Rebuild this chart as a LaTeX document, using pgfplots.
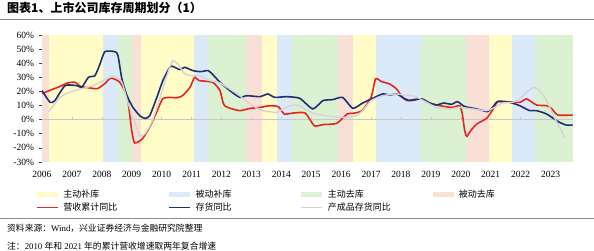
\documentclass[border=0pt]{standalone}
\usepackage{fontspec}
\setmainfont{Liberation Serif}
\newfontfamily\cjk{Noto Sans CJK SC}
\usepackage{pgfplots}
\usepackage{pgfplotstable}
\pgfplotsset{compat=1.18}
\definecolor{cRed}{RGB}{228,38,32}
\definecolor{cNavy}{RGB}{28,48,118}
\definecolor{cGray}{RGB}{212,212,212}
\definecolor{bYellow}{RGB}{255,252,200}
\definecolor{bBlue}{RGB}{220,233,248}
\definecolor{bGreen}{RGB}{220,240,210}
\definecolor{bPink}{RGB}{250,223,214}
\pgfplotstableread{
yr v
2006.0 18.5
2006.35 21.5
2006.6 23.5
2006.85 26
2007.1 26.5
2007.3 23.5
2007.6 22.5
2007.85 22
2008.1 25.5
2008.3 29.5
2008.6 26.5
2008.85 16
2009.0 -8
2009.1 -16.5
2009.35 -13.7
2009.6 -5.4
2009.83 5.2
2010.03 14.7
2010.25 15.8
2010.5 15.5
2010.7 17
2010.95 23
2011.1 30
2011.25 27.7
2011.7 26.5
2011.95 20.6
2012.1 9.9
2012.6 6.4
2012.95 8.0
2013.3 8.7
2013.6 9.9
2013.9 9.2
2014.1 4.0
2014.4 4.7
2014.8 4.7
2015.1 -4.3
2015.4 -3.5
2015.85 -2.6
2016.2 4.0
2016.4 4.5
2016.7 6.4
2017.0 15.8
2017.15 28.9
2017.35 27
2017.62 25.3
2017.85 21.8
2018.05 15.8
2018.2 13.5
2018.4 14.2
2018.7 14.7
2018.95 11.8
2019.3 9.9
2019.7 8.7
2019.96 9.9
2020.05 4.0
2020.13 -7.8
2020.2 -11.8
2020.33 -7.8
2020.53 -3.1
2020.86 0.9
2021.05 6.4
2021.23 12.8
2021.5 12.8
2021.97 12.3
2022.2 14.7
2022.53 10.4
2022.87 9.9
2023.03 8.0
2023.24 3.3
2023.74 3.3
}\revenue
\pgfplotstableread{
yr v
2006.0 20.6
2006.27 12.3
2006.43 13.5
2006.77 24.1
2007.17 24.1
2007.33 22.9
2007.55 30
2007.77 31.2
2007.94 39.5
2008.1 48.2
2008.44 48.2
2008.54 45.4
2008.67 28.9
2008.84 17
2009.04 8.7
2009.27 2.8
2009.44 0.9
2009.6 2.8
2009.84 15.8
2010.04 27.7
2010.27 37.1
2010.37 37.8
2010.6 35.5
2010.77 37.1
2011.04 34.8
2011.3 34
2011.55 34.8
2011.72 31.7
2011.95 26.5
2012.28 20.6
2012.61 15.8
2012.85 17
2013.28 16.3
2013.55 18.2
2013.78 15.8
2014.18 16.3
2014.62 15.1
2015.05 7.6
2015.39 13.5
2015.72 14.2
2016.05 15.8
2016.39 8.0
2016.72 11.8
2017.12 15.8
2017.39 18.2
2017.62 17.5
2017.86 18.2
2018.05 15.8
2018.29 13.5
2018.69 14.7
2018.96 11.8
2019.19 10.4
2019.43 11.8
2019.69 10.9
2019.89 12.8
2020.12 9.4
2020.53 7.6
2020.9 5.7
2021.06 8.7
2021.23 12.8
2021.63 12.3
2021.97 9.9
2022.3 6.4
2022.53 6.4
2022.87 4.0
2023.3 -1.9
2023.53 -3.8
2023.74 -3.8
}\inventory
\pgfplotstableread{
yr v
2006.23 5.7
2006.6 15.8
2007.0 20
2007.7 24.1
2008.27 30
2008.44 30.7
2008.67 26.5
2008.87 12.3
2009.1 -1.9
2009.27 -11.3
2009.44 -10.1
2009.67 -1.9
2009.88 11.1
2010.1 26.5
2010.27 37.1
2010.37 41.8
2010.54 39.5
2010.77 32.4
2011.04 31.2
2011.27 31.2
2011.6 27.7
2011.95 26
2012.61 17
2012.95 11.1
2013.38 6.4
2013.85 5.2
2014.05 7.6
2014.38 10.4
2014.6 9.9
2015.05 4.7
2015.62 2.4
2016.18 1.6
2016.5 2.8
2016.72 6.4
2017.0 13.5
2017.39 17
2017.86 18.2
2018.19 17
2018.4 17
2018.69 14.2
2019.19 8.7
2019.63 7.6
2019.96 8.7
2020.4 7.6
2020.86 6.4
2021.13 8.7
2021.4 11.8
2021.73 12.3
2021.97 14.7
2022.2 19.4
2022.43 22.9
2022.63 20.6
2022.87 13.5
2023.07 4.0
2023.3 -5.4
2023.47 -12.5
}\finished
\begin{document}
\begin{tikzpicture}
\useasboundingbox (0,0) rectangle (594bp,251bp);
\node[anchor=west,inner sep=0pt] at (7bp,243bp) {\cjk\bfseries\fontsize{12bp}{14bp}\selectfont 图表1、上市公司库存周期划分（1）};
\draw[black!45,line width=0.9bp] (0,232bp) -- (594bp,232bp);
\draw[black!45,line width=0.9bp] (0,33bp) -- (594bp,33bp);
\node[anchor=west,inner sep=0pt] at (7bp,23bp) {\fontsize{8.8bp}{10bp}\selectfont{\cjk 资料来源：}Wind{\cjk ，兴业证券经济与金融研究院整理}};
\node[anchor=west,inner sep=0pt] at (7bp,5bp) {\fontsize{8.8bp}{10bp}\selectfont{\cjk 注：}2010 {\cjk 年和} 2021 {\cjk 年的累计营收增速取两年复合增速}};
\begin{axis}[
  at={(42bp,89bp)}, anchor=south west,
  width=531bp, height=127bp, scale only axis,
  xmin=0, xmax=17.75, ymin=-30, ymax=60,
  axis lines*=left,
  x axis line style={draw=none},
  y axis line style={black!75, line width=0.7bp},
  xtick={0,1,...,17},
  xticklabels={2006,2007,2008,2009,2010,2011,2012,2013,2014,2015,2016,2017,2018,2019,2020,2021,2022,2023},
  xtick style={draw=none},
  ytick={-30,-20,...,60},
  yticklabels={-30\%,-20\%,-10\%,0\%,10\%,20\%,30\%,40\%,50\%,60\%},
  ytick style={black!75, line width=0.7bp},
  tick align=outside, major tick length=2.5bp,
  tick label style={font=\fontsize{9.5bp}{11bp}\selectfont},
  xticklabel style={yshift=-3.5bp},
  yticklabel style={xshift=-2bp},
  legend columns=4,
  legend cell align=left,
  legend style={at={(rel axis cs:-0.0113,-0.222)}, anchor=north west,
    draw=none, fill=none, inner sep=0pt, outer sep=0pt,
    font=\cjk\fontsize{9bp}{10bp}\selectfont,
    nodes={inner sep=0pt, text width=105bp, text height=7bp, text depth=2bp},
    row sep=4bp,
    /tikz/every odd column/.append style={column sep=5bp},
    /tikz/every even column/.append style={column sep=0bp}},
]
% bands (x = years since 2006)
\addplot[fill=bYellow, draw=none, area legend, legend image code/.code={\fill[bYellow] (0bp,-2.5bp) rectangle (21bp,2.5bp);}] coordinates {(0.23,-30) (0.23,60) (2.04,60) (2.04,-30)};
\addlegendentry{主动补库}
\addplot[fill=bBlue, draw=none, area legend, legend image code/.code={\fill[bBlue] (0bp,-2.5bp) rectangle (21bp,2.5bp);}] coordinates {(2.04,-30) (2.04,60) (2.54,60) (2.54,-30)};
\addlegendentry{被动补库}
\addplot[fill=bGreen, draw=none, area legend, legend image code/.code={\fill[bGreen] (0bp,-2.5bp) rectangle (21bp,2.5bp);}] coordinates {(2.54,-30) (2.54,60) (3.04,60) (3.04,-30)};
\addlegendentry{主动去库}
\addplot[fill=bPink, draw=none, area legend, legend image code/.code={\fill[bPink] (0bp,-2.5bp) rectangle (21bp,2.5bp);}] coordinates {(0,-30) (0,60) (0.23,60) (0.23,-30)};
\addlegendentry{被动去库}
\addplot[fill=bPink, draw=none, forget plot] coordinates {(3.04,-30) (3.04,60) (3.31,60) (3.31,-30)};
\addplot[fill=bPink, draw=none, forget plot] coordinates {(6.85,-30) (6.85,60) (7.35,60) (7.35,-30)};
\addplot[fill=bPink, draw=none, forget plot] coordinates {(9.89,-30) (9.89,60) (10.39,60) (10.39,-30)};
\addplot[fill=bPink, draw=none, forget plot] coordinates {(14.19,-30) (14.19,60) (14.93,60) (14.93,-30)};
\addplot[fill=bYellow, draw=none, forget plot] coordinates {(3.31,-30) (3.31,60) (5.08,60) (5.08,-30)};
\addplot[fill=bYellow, draw=none, forget plot] coordinates {(7.35,-30) (7.35,60) (7.85,60) (7.85,-30)};
\addplot[fill=bYellow, draw=none, forget plot] coordinates {(10.39,-30) (10.39,60) (11.16,60) (11.16,-30)};
\addplot[fill=bYellow, draw=none, forget plot] coordinates {(14.93,-30) (14.93,60) (15.70,60) (15.70,-30)};
\addplot[fill=bBlue, draw=none, forget plot] coordinates {(5.08,-30) (5.08,60) (5.55,60) (5.55,-30)};
\addplot[fill=bBlue, draw=none, forget plot] coordinates {(7.85,-30) (7.85,60) (8.35,60) (8.35,-30)};
\addplot[fill=bBlue, draw=none, forget plot] coordinates {(11.16,-30) (11.16,60) (12.66,60) (12.66,-30)};
\addplot[fill=bBlue, draw=none, forget plot] coordinates {(15.70,-30) (15.70,60) (16.47,60) (16.47,-30)};
\addplot[fill=bGreen, draw=none, forget plot] coordinates {(5.55,-30) (5.55,60) (6.85,60) (6.85,-30)};
\addplot[fill=bGreen, draw=none, forget plot] coordinates {(8.35,-30) (8.35,60) (9.89,60) (9.89,-30)};
\addplot[fill=bGreen, draw=none, forget plot] coordinates {(12.66,-30) (12.66,60) (14.19,60) (14.19,-30)};
\addplot[fill=bGreen, draw=none, forget plot] coordinates {(16.47,-30) (16.47,60) (17.75,60) (17.75,-30)};
% zero line with small year ticks
\addplot[black!22, line width=0.8bp, forget plot] coordinates {(0,0) (17.75,0)};
\addplot[black!22, line width=0.6bp, forget plot, ycomb] coordinates {(1,1.8) (2,1.8) (3,1.8) (4,1.8) (5,1.8) (6,1.8) (7,1.8) (8,1.8) (9,1.8) (10,1.8) (11,1.8) (12,1.8) (13,1.8) (14,1.8) (15,1.8) (16,1.8) (17,1.8)};
% series
\addplot[cRed, line width=1.6bp, smooth, tension=0.35, legend image code/.code={\draw[cRed, line width=1.3bp] (0bp,0bp) -- (21bp,0bp);}] table[x expr=\thisrow{yr}-2006, y=v] {\revenue};
\addlegendentry{营收累计同比}
\addplot[cNavy, line width=1.6bp, smooth, tension=0.35, legend image code/.code={\draw[cNavy, line width=1.3bp] (0bp,0bp) -- (21bp,0bp);}] table[x expr=\thisrow{yr}-2006, y=v] {\inventory};
\addlegendentry{存货同比}
\addplot[cGray, line width=1.4bp, smooth, tension=0.35, legend image code/.code={\draw[cGray, line width=1.2bp] (0bp,0bp) -- (21bp,0bp);}] table[x expr=\thisrow{yr}-2006, y=v] {\finished};
\addlegendentry{产成品存货同比}
\end{axis}
\end{tikzpicture}
\end{document}
